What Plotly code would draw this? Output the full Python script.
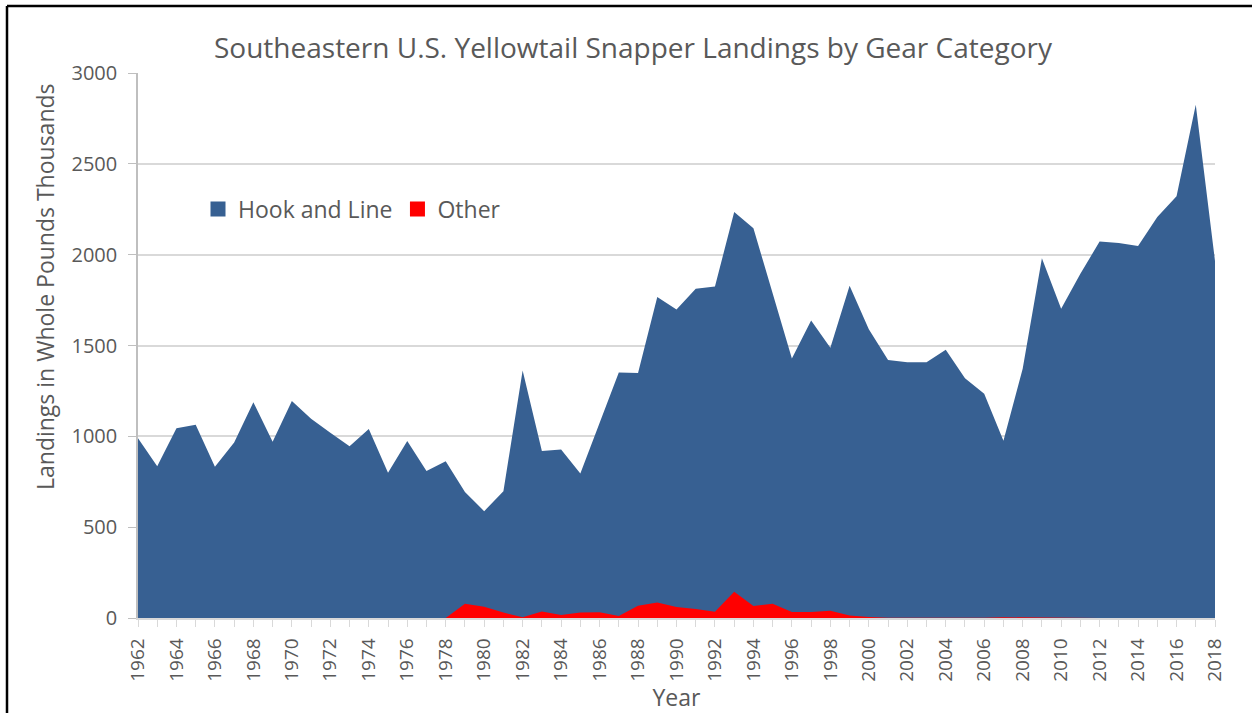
import plotly.graph_objects as go

# years and landings (thousands of pounds)
years = list(range(1962, 2019))
hook_line = [990, 835, 1044, 1064, 833, 966, 1187, 970, 1195, 1097,
             1020, 946, 1040, 799, 974, 809, 863, 694, 588, 698,
             1362, 919, 928, 795, 1074, 1352, 1348, 1767, 1698, 1813,
             1825, 2235, 2145, 1787, 1428, 1638, 1487, 1829, 1589, 1420,
             1408, 1408, 1477, 1320, 1235, 976, 1372, 1980, 1702, 1895,
             2072, 2064, 2048, 2207, 2322, 2825, 1965]
other = [0, 0, 0, 0, 0, 0, 0, 0, 0, 0,
         0, 0, 0, 0, 0, 0, 0, 78, 62, 30,
         4, 36, 16, 30, 32, 11, 67, 85, 60, 50,
         35, 145, 66, 78, 33, 33, 40, 14, 5, 2,
         1, 4, 0, 0, 1, 4, 3, 0, 0, 0,
         0, 0, 0, 0, 0, 0, 0]
tick_years = list(range(1962, 2019, 2))

blue = "#376092"
red = "#FF0000"
grey_txt = "#595959"

W, H = 1252, 713
L, R, T, B = 138, 37, 73, 95
pw, ph = W - L - R, H - T - B

fig = go.Figure()
fig.add_trace(go.Scatter(x=years, y=hook_line, name="Hook and Line", mode="lines",
                         line=dict(width=0, color=blue), fill="tozeroy", fillcolor=blue,
                         showlegend=False))
fig.add_trace(go.Scatter(x=years, y=other, name="Other", mode="lines",
                         line=dict(width=0, color=red), fill="tozeroy", fillcolor=red,
                         showlegend=False))
# square legend keys like the original
fig.add_trace(go.Scatter(x=[None], y=[None], mode="markers", name="Hook and Line",
                         marker=dict(symbol="square", size=15, color=blue)))
fig.add_trace(go.Scatter(x=[None], y=[None], mode="markers", name="Other",
                         marker=dict(symbol="square", size=15, color=red)))

fig.update_layout(
    width=W, height=H,
    margin=dict(l=L, r=R, t=T, b=B),
    paper_bgcolor="white", plot_bgcolor="white",
    font=dict(family="Open Sans", color=grey_txt),
    title=dict(text="Southeastern U.S. Yellowtail Snapper Landings by Gear Category",
               x=633 / W, xanchor="center", y=1 - 48 / H, yanchor="middle",
               font=dict(size=28, color=grey_txt)),
    legend=dict(orientation="h", x=(198 - L) / pw, y=(H - B - 209) / ph,
                xanchor="left", yanchor="middle",
                font=dict(size=23, color=grey_txt), bgcolor="rgba(0,0,0,0)",
                itemwidth=30),
    showlegend=True,
    hovermode=False,
)

fig.update_xaxes(
    range=[1962, 2018], tickvals=tick_years, ticktext=[str(y) for y in tick_years],
    tickangle=-90, tickfont=dict(size=19, color=grey_txt), ticklabelstandoff=4,
    showgrid=False, zeroline=False, automargin=False,
    showline=True, linecolor="#D9D9D9", linewidth=1.5,
    ticks="outside", ticklen=7, tickcolor="#D9D9D9",
    minor=dict(ticks="outside", dtick=1, tick0=1962, ticklen=7, tickcolor="#D9D9D9"),
    title=dict(text="Year", font=dict(size=23, color=grey_txt), standoff=5),
)
fig.update_yaxes(
    range=[0, 3000], dtick=500, tickfont=dict(size=20, color=grey_txt), ticklabelstandoff=7,
    showgrid=True, gridcolor="#D9D9D9", gridwidth=1.5, zeroline=False, automargin=False,
    showline=True, linecolor="#BFBFBF", linewidth=1.5,
    ticks="outside", ticklen=8, tickcolor="#BFBFBF",
)

# y axis title sits above the plot's centre in the original
fig.add_annotation(text="Landings in Whole Pounds Thousands", textangle=-90,
                   xref="paper", yref="paper", x=(45 - L) / pw, y=(H - B - 287) / ph,
                   xanchor="center", yanchor="middle", showarrow=False,
                   font=dict(size=23, color=grey_txt))

# outer frame of the original chart (only top and left edges visible)
fx, fy = (7 - L) / pw, (H - B - 6) / ph
fig.add_shape(type="line", xref="paper", yref="paper",
              x0=fx, x1=1.2, y0=fy, y1=fy, line=dict(color="black", width=2.5))
fig.add_shape(type="line", xref="paper", yref="paper",
              x0=fx, x1=fx, y0=fy, y1=-0.3, line=dict(color="black", width=2.5))

fig.write_html("out.html", config={"displayModeBar": False},
               post_script="document.body.style.margin='0';")
